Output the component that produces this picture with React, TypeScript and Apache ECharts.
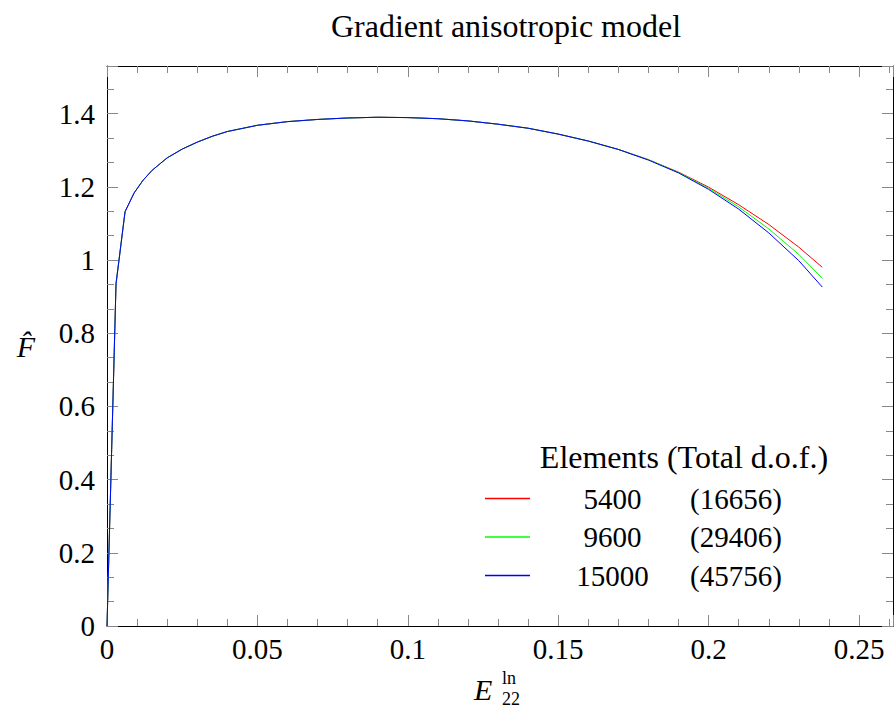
import React, { useEffect, useRef } from "react";
import * as echarts from "echarts";

const strain = [0, 0.003, 0.006, 0.009, 0.012, 0.015, 0.02, 0.025, 0.03, 0.035, 0.04, 0.05, 0.06, 0.07, 0.08, 0.09, 0.1, 0.11, 0.12, 0.13, 0.14, 0.15, 0.16, 0.17, 0.18, 0.19, 0.2, 0.21, 0.22, 0.23, 0.2378];
const force5400 = [0, 0.935, 1.132, 1.183, 1.218, 1.245, 1.279, 1.303, 1.322, 1.338, 1.351, 1.368, 1.378, 1.384, 1.388, 1.39, 1.389, 1.386, 1.38, 1.371, 1.36, 1.344, 1.325, 1.302, 1.274, 1.24, 1.199, 1.151, 1.097, 1.035, 0.98];
const force9600 = [0, 0.935, 1.132, 1.183, 1.218, 1.245, 1.279, 1.303, 1.322, 1.338, 1.351, 1.368, 1.378, 1.384, 1.388, 1.39, 1.389, 1.386, 1.38, 1.371, 1.36, 1.344, 1.325, 1.302, 1.274, 1.239, 1.196, 1.145, 1.085, 1.015, 0.95];
const force15000 = [0, 0.935, 1.132, 1.183, 1.218, 1.245, 1.279, 1.303, 1.322, 1.338, 1.351, 1.368, 1.378, 1.384, 1.388, 1.39, 1.389, 1.386, 1.38, 1.371, 1.36, 1.344, 1.325, 1.302, 1.273, 1.238, 1.193, 1.139, 1.074, 0.998, 0.926];

const elements = ["5400", "9600", "15000"];
const totalDof = ["(16656)", "(29406)", "(45756)"];
const colors = ["#ff0000", "#00ff00", "#0000ff"];
const seriesValues = [force5400, force9600, force15000];

const xTickLabels = ["0", "0.05", "0.1", "0.15", "0.2", "0.25"];
const yTickLabels = ["0", "0.2", "0.4", "0.6", "0.8", "1", "1.2", "1.4"];

const FONT = "'Liberation Serif', 'Times New Roman', serif";

export default function App() {
  const ref = useRef<HTMLDivElement>(null);
  useEffect(() => {
    if (!ref.current) return;
    const chart = echarts.init(ref.current, null, { renderer: "svg" });
    const xMin = 0, xMax = 0.2613, yMin = 0, yMax = 1.53;
    const tickStyle = { color: "#888", width: 1 };
    const fmtX = (v: number) => {
      const i = Math.round(v / 0.05);
      return Math.abs(v - i * 0.05) < 1e-9 && xTickLabels[i] !== undefined ? xTickLabels[i] : "";
    };
    const fmtY = (v: number) => {
      const i = Math.round(v / 0.2);
      return Math.abs(v - i * 0.2) < 1e-9 && yTickLabels[i] !== undefined ? yTickLabels[i] : "";
    };
    const baseX = {
      type: "value",
      min: xMin,
      max: xMax,
      interval: 0.05,
      splitLine: { show: false },
      axisLine: { show: true, onZero: false, lineStyle: { color: "#000", width: 1 } },
      axisTick: { show: true, inside: true, length: 11, lineStyle: tickStyle },
      minorTick: { show: true, splitNumber: 5, length: 7, lineStyle: tickStyle },
    };
    const baseY = {
      type: "value",
      min: yMin,
      max: yMax,
      interval: 0.2,
      splitLine: { show: false },
      axisLine: { show: true, onZero: false, lineStyle: { color: "#000", width: 1 } },
      axisTick: { show: true, inside: true, length: 11, lineStyle: tickStyle },
      minorTick: { show: true, splitNumber: 3, length: 7, lineStyle: tickStyle },
    };
    chart.setOption({
      animation: false,
      backgroundColor: "#fff",
      title: {
        text: "Gradient anisotropic model",
        left: 501,
        textAlign: "center",
        top: 5,
        textStyle: { fontFamily: FONT, fontSize: 32, fontWeight: "normal", color: "#000" },
      },
      grid: { left: 107, top: 66, width: 786, height: 560 },
      xAxis: [
        {
          ...baseX,
          position: "bottom",
          axisLabel: {
            show: true,
            margin: 8,
            formatter: fmtX,
            showMaxLabel: false,
            fontFamily: FONT,
            fontSize: 29,
            color: "#000",
          },
        },
        { ...baseX, position: "top", axisLabel: { show: false } },
      ],
      yAxis: [
        {
          ...baseY,
          position: "left",
          name: "F\u0302",
          nameLocation: "middle",
          nameRotate: 0,
          nameGap: 72,
          nameTextStyle: { fontFamily: FONT, fontSize: 30, fontStyle: "italic", color: "#000" },
          axisLabel: {
            show: true,
            margin: 12,
            formatter: fmtY,
            showMaxLabel: false,
            fontFamily: FONT,
            fontSize: 29,
            color: "#000",
          },
        },
        { ...baseY, position: "right", axisLabel: { show: false } },
      ],
      legend: {
        orient: "vertical",
        left: 480,
        top: 479,
        icon: "rect",
        itemWidth: 45,
        itemHeight: 1.5,
        itemGap: 9.5,
        selectedMode: false,
        data: elements,
        formatter: (name: string) => {
          const i = elements.indexOf(name);
          return `{a|${name}}{b|${totalDof[i]}}`;
        },
        textStyle: {
          fontFamily: FONT,
          fontSize: 29,
          color: "#000",
          rich: {
            a: { width: 155, align: "center", fontFamily: FONT, fontSize: 29, lineHeight: 30, color: "#000" },
            b: { align: "left", fontFamily: FONT, fontSize: 29, lineHeight: 30, color: "#000" },
          },
        },
      },
      graphic: [
        {
          type: "text",
          x: 684,
          y: 457,
          style: {
            text: "Elements (Total d.o.f.)",
            fontFamily: FONT,
            fontSize: 32,
            fill: "#000",
            textAlign: "center",
            textVerticalAlign: "middle",
          },
        },
        {
          type: "text",
          x: 474,
          y: 689,
          style: { text: "E", fontFamily: FONT, fontSize: 30, fontStyle: "italic", fill: "#000", textVerticalAlign: "middle" },
        },
        {
          type: "text",
          x: 502,
          y: 678,
          style: { text: "ln", fontFamily: FONT, fontSize: 18, fill: "#000", textVerticalAlign: "middle" },
        },
        {
          type: "text",
          x: 502,
          y: 699,
          style: { text: "22", fontFamily: FONT, fontSize: 18, fill: "#000", textVerticalAlign: "middle" },
        },
      ],
      series: elements.map((name, k) => ({
        name,
        type: "line",
        xAxisIndex: 0,
        yAxisIndex: 0,
        showSymbol: false,
        symbol: "none",
        smooth: false,
        color: colors[k],
        lineStyle: { color: colors[k], width: 1 },
        data: strain.map((x, i) => [x, seriesValues[k][i]]),
      })),
    });
    return () => chart.dispose();
  }, []);
  return (
    <div
      ref={ref}
      style={{ position: "fixed", left: 0, top: 0, width: 895, height: 716, background: "#fff" }}
    />
  );
}
